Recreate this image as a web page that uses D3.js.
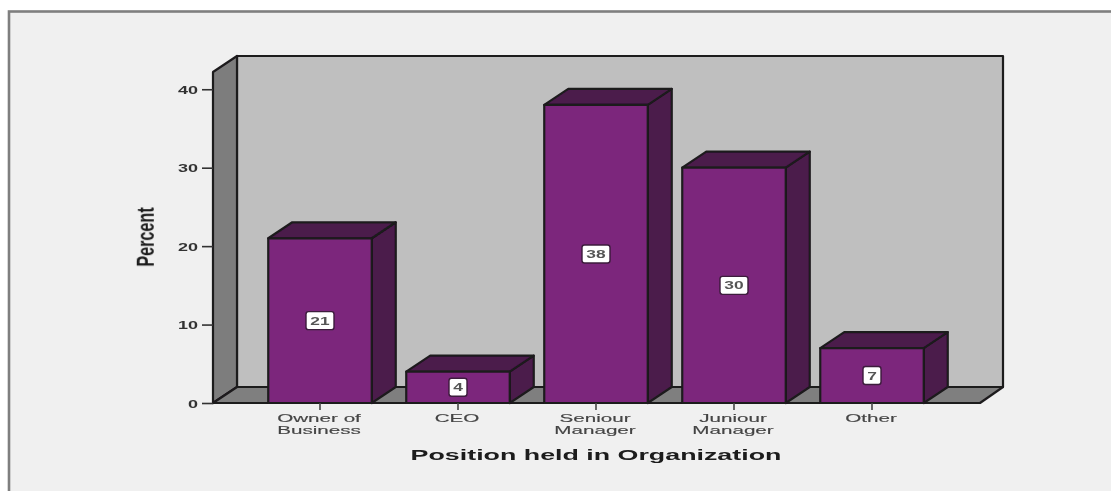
<!DOCTYPE html>
<html>
<head>
<meta charset="utf-8">
<script src="https://cdn.jsdelivr.net/npm/d3@7/dist/d3.min.js"></script>
<style>
html,body{margin:0;padding:0;background:#fff;overflow:hidden}
svg{display:block}
text{font-family:"Liberation Sans",Arial,sans-serif}
</style>
</head>
<body>
<svg id="c" width="1111" height="491"></svg>
<script>
const categories = [["Owner of","Business"],["CEO"],["Seniour","Manager"],["Juniour","Manager"],["Other"]];
const percents = [21, 4, 38, 30, 7];
const yTicks = [0, 10, 20, 30, 40];
const xTitle = "Position held in Organization";
const yTitle = "Percent";

const svg = d3.select("#c");
const defs = svg.append("defs");
defs.append("filter").attr("id","soft").attr("x","-5%").attr("y","-5%").attr("width","110%").attr("height","110%")
  .append("feGaussianBlur").attr("stdDeviation",0.55);

const dx = 24, dy = -16;
const y = d3.scaleLinear().domain([0, 42.2]).range([403, 72]);
const x = d3.scaleBand().domain(d3.range(categories.length)).range([251, 941]).paddingInner(0.25).paddingOuter(0.125);
const left = 213, right = 980;
const ink = "#1e1a1e";

// frame
svg.append("rect").attr("width",1111).attr("height",491).attr("fill","#fff");
svg.append("rect").attr("x",9).attr("y",11.5).attr("width",1110).attr("height",490)
  .attr("fill","#f0f0f0").attr("stroke","#7f7f7f").attr("stroke-width",2.6);

const g = svg.append("g").attr("filter","url(#soft)");
const poly = (pts, fill) => g.append("polygon")
  .attr("points", pts.map(p=>p.join(",")).join(" "))
  .attr("fill", fill).attr("stroke", ink).attr("stroke-width", 2.2).attr("stroke-linejoin","round");

const y0 = y(0), yT = y.range()[1];
// back wall, side wall, floor
poly([[left+dx,yT+dy],[right+dx-1,yT+dy],[right+dx-1,y0+dy],[left+dx,y0+dy]], "#bfbfbf");
poly([[left,yT],[left+dx,yT+dy],[left+dx,y0+dy],[left,y0]], "#7d7d7d");
poly([[left,y0],[left+dx,y0+dy],[right+dx-1,y0+dy],[right,y0]], "#7f7f7f");

// y axis ticks
const yAxis = d3.axisLeft(y).tickValues(yTicks).tickSize(11).tickPadding(4);
const ya = g.append("g").attr("transform",`translate(${left},0)`).call(yAxis);
ya.select(".domain").remove();
ya.selectAll("line").attr("stroke","#333").attr("stroke-width",1.6);
ya.selectAll("text").attr("fill","#333").attr("font-size",12).attr("font-weight","bold")
  .attr("x",0).attr("y",0).attr("dy","0.36em")
  .attr("transform","translate(-15,0) scale(1.5,0.95)");

// bars
const bars = g.selectAll("g.bar").data(percents).join("g").attr("class","bar");
bars.each(function(v,i){
  const b = d3.select(this), x0 = x(i), w = x.bandwidth(), x1 = x0+w, t = y(v);
  const p = (pts,fill)=>b.append("polygon").attr("points",pts.map(q=>q.join(",")).join(" "))
    .attr("fill",fill).attr("stroke",ink).attr("stroke-width",2.2).attr("stroke-linejoin","round");
  p([[x1,t],[x1+dx,t+dy],[x1+dx,y0+dy],[x1,y0]], "#4b1a4c");
  p([[x0,t],[x0+dx,t+dy],[x1+dx,t+dy],[x1,t]], "#4b1a4c");
  p([[x0,t],[x1,t],[x1,y0],[x0,y0]], "#7b287b");
  // value label
  const cy = (t+y0)/2, cx = x0+w/2, bw = String(v).length>1?28:18;
  b.append("rect").attr("x",cx-bw/2).attr("y",cy-9).attr("width",bw).attr("height",18).attr("rx",2.5)
    .attr("fill","#fff").attr("stroke","#3c1c3c").attr("stroke-width",1.4);
  b.append("text").attr("transform",`translate(${cx},${cy}) scale(1.45,0.95)`).attr("text-anchor","middle").attr("dy","0.36em")
    .attr("font-size",12).attr("font-weight","bold").attr("fill","#555").text(v);
  // tick
  b.append("line").attr("x1",cx).attr("x2",cx).attr("y1",y0).attr("y2",y0+7).attr("stroke","#444").attr("stroke-width",1.6);
  // category
  categories[i].forEach((s,k)=>{
    b.append("text").attr("transform",`translate(${cx-1},${y0+19+k*12}) scale(1.72,0.98)`).attr("text-anchor","middle")
      .attr("font-size",12).attr("fill","#444").attr("stroke","#444").attr("stroke-width",0.15).text(s);
  });
});

// titles
g.append("text").attr("transform","translate(596,460) scale(1.73,1)").attr("text-anchor","middle")
  .attr("font-size",15.5).attr("font-weight","bold").attr("fill","#1a1a1a").text(xTitle);
g.append("text").attr("transform","translate(154,237) rotate(-90) scale(0.95,1.4)").attr("text-anchor","middle")
  .attr("font-size",17).attr("font-weight","bold").attr("fill","#1a1a1a").text(yTitle);
</script>
</body>
</html>
